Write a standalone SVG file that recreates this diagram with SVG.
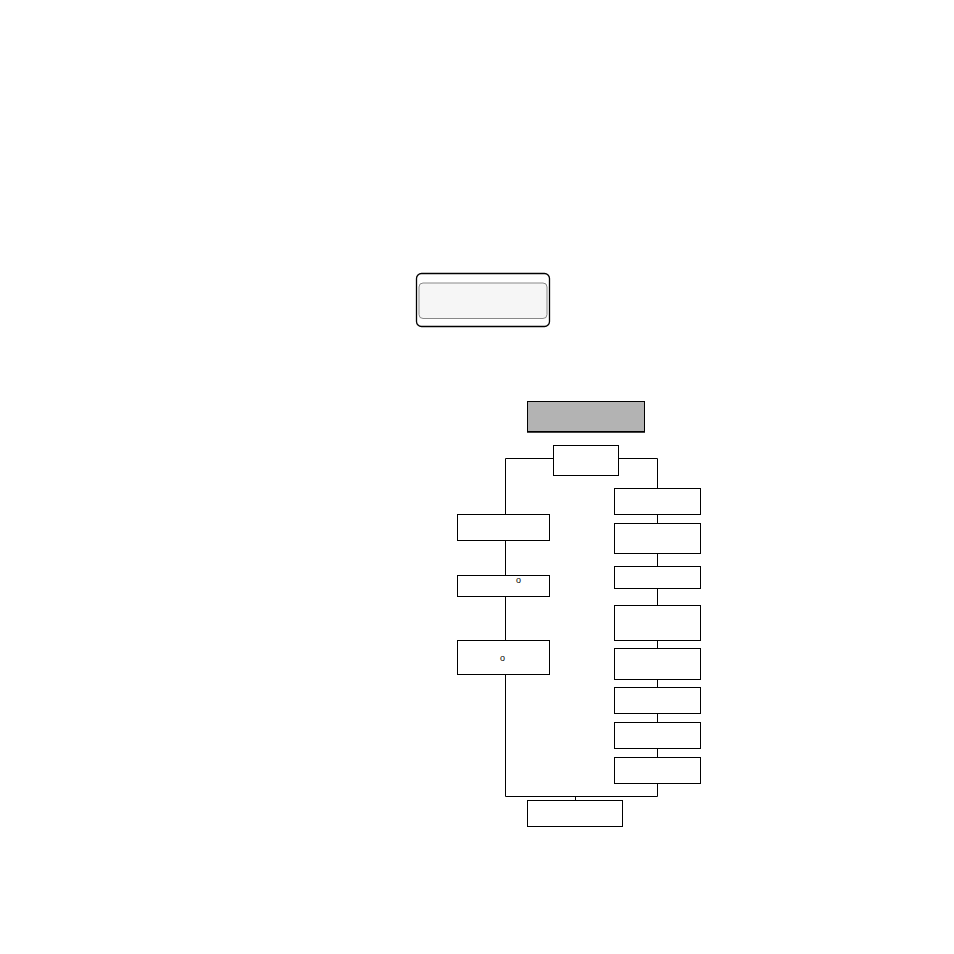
<svg xmlns="http://www.w3.org/2000/svg" width="954" height="954" viewBox="0 0 954 954">
<style>
.box{fill:#ffffff;stroke:#000000;stroke-width:1}
.ln{fill:none;stroke:#000000;stroke-width:1}
.t{font-family:"Liberation Sans",Arial,sans-serif;font-size:9px;fill:#000000}
</style>
<rect width="954" height="954" fill="#ffffff"/>
<g id="connectors">
<path class="ln" d="M553.5,458.5 H505.5 V796.5 H657.5 V458.5 H618.5"/>
<path class="ln" d="M575.5,796.5 V800"/>
</g>
<g id="panel">
<rect x="416.5" y="273.5" width="133" height="53" rx="5" fill="#ffffff" stroke="#000000" stroke-width="1.3"/>
<rect x="419" y="283" width="128" height="35.5" rx="4" fill="#f6f6f6" stroke="#888888" stroke-width="1"/>
</g>
<g id="header">
<rect x="527.5" y="401.5" width="117" height="30" fill="#b3b3b3" stroke="#000000" stroke-width="1"/>
<line x1="527" y1="432" x2="645" y2="432" stroke="#000000" stroke-width="1.5"/>
</g>
<g id="start"><rect class="box" x="553.5" y="445.5" width="65" height="30"/></g>
<g id="L1"><rect class="box" x="457.5" y="514.5" width="92" height="26"/></g>
<g id="L2"><rect class="box" x="457.5" y="575.5" width="92" height="21"/><text class="t" x="516" y="582.5">o</text></g>
<g id="L3"><rect class="box" x="457.5" y="640.5" width="92" height="34"/><text class="t" x="500" y="660.5">o</text></g>
<g id="R1"><rect class="box" x="614.5" y="488.5" width="86" height="26"/></g>
<g id="R2"><rect class="box" x="614.5" y="523.5" width="86" height="30"/></g>
<g id="R3"><rect class="box" x="614.5" y="566.5" width="86" height="22"/></g>
<g id="R4"><rect class="box" x="614.5" y="605.5" width="86" height="35"/></g>
<g id="R5"><rect class="box" x="614.5" y="648.5" width="86" height="31"/></g>
<g id="R6"><rect class="box" x="614.5" y="687.5" width="86" height="26"/></g>
<g id="R7"><rect class="box" x="614.5" y="722.5" width="86" height="26"/></g>
<g id="R8"><rect class="box" x="614.5" y="757.5" width="86" height="26"/></g>
<g id="end"><rect class="box" x="527.5" y="800.5" width="95" height="26"/></g>
</svg>
